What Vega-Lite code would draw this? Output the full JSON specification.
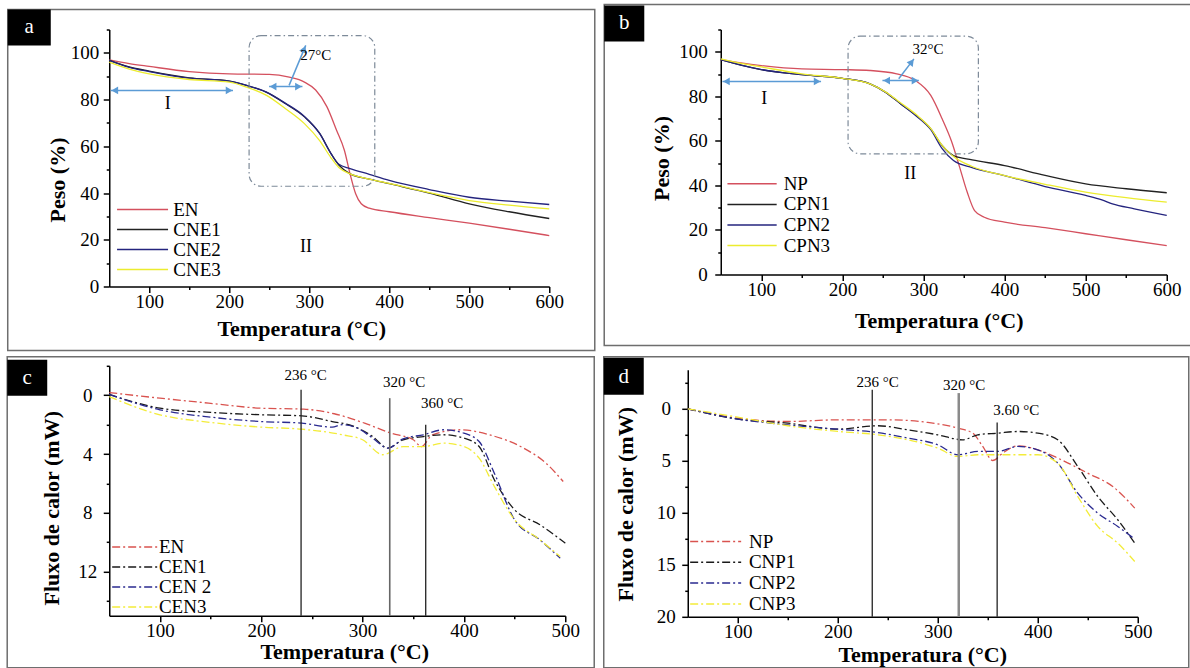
{
"$schema":"https://vega.github.io/schema/vega-lite/v6.json",
"background":"white",
"padding":{"left":6.25,"top":3.5,"right":0,"bottom":0},
"columns":2,
"align":"none",
"bounds":"full",
"spacing":{"row":4.3,"column":6.5},
"resolve":{"scale":{"x":"independent","y":"independent","color":"independent"},"legend":{"color":"independent"}},
"datasets":{
"tga_a":[
{"s":"EN","T":50,"W":97.0},{"s":"EN","T":75,"W":95.4},{"s":"EN","T":100,"W":94.2},{"s":"EN","T":150,"W":92.0},{"s":"EN","T":200,"W":91.0},{"s":"EN","T":250,"W":90.8},{"s":"EN","T":275,"W":89.6},{"s":"EN","T":294,"W":87.5},{"s":"EN","T":308,"W":84.1},{"s":"EN","T":322,"W":77.0},{"s":"EN","T":334,"W":67.0},{"s":"EN","T":344,"W":58.2},{"s":"EN","T":351,"W":48.2},{"s":"EN","T":358,"W":39.7},{"s":"EN","T":365,"W":35.4},{"s":"EN","T":375,"W":33.5},{"s":"EN","T":400,"W":32.0},{"s":"EN","T":450,"W":29.5},{"s":"EN","T":500,"W":27.1},{"s":"EN","T":550,"W":24.5},{"s":"EN","T":600,"W":21.8},
{"s":"CNE1","T":50,"W":96.8},{"s":"CNE1","T":75,"W":94.0},{"s":"CNE1","T":100,"W":92.2},{"s":"CNE1","T":150,"W":89.3},{"s":"CNE1","T":200,"W":87.9},{"s":"CNE1","T":222,"W":86.0},{"s":"CNE1","T":246,"W":83.2},{"s":"CNE1","T":270,"W":78.3},{"s":"CNE1","T":294,"W":72.6},{"s":"CNE1","T":313,"W":65.5},{"s":"CNE1","T":327,"W":57.0},{"s":"CNE1","T":337,"W":52.0},{"s":"CNE1","T":351,"W":48.2},{"s":"CNE1","T":375,"W":46.0},{"s":"CNE1","T":400,"W":44.0},{"s":"CNE1","T":450,"W":40.0},{"s":"CNE1","T":500,"W":35.4},{"s":"CNE1","T":550,"W":32.0},{"s":"CNE1","T":600,"W":29.1},
{"s":"CNE2","T":50,"W":96.8},{"s":"CNE2","T":75,"W":93.8},{"s":"CNE2","T":100,"W":92.0},{"s":"CNE2","T":150,"W":89.2},{"s":"CNE2","T":200,"W":87.9},{"s":"CNE2","T":222,"W":86.1},{"s":"CNE2","T":246,"W":83.3},{"s":"CNE2","T":270,"W":78.5},{"s":"CNE2","T":294,"W":72.8},{"s":"CNE2","T":313,"W":65.5},{"s":"CNE2","T":327,"W":57.0},{"s":"CNE2","T":337,"W":52.3},{"s":"CNE2","T":351,"W":50.5},{"s":"CNE2","T":375,"W":48.0},{"s":"CNE2","T":400,"W":45.4},{"s":"CNE2","T":450,"W":41.5},{"s":"CNE2","T":500,"W":38.2},{"s":"CNE2","T":550,"W":36.5},{"s":"CNE2","T":600,"W":35.1},
{"s":"CNE3","T":50,"W":96.0},{"s":"CNE3","T":75,"W":93.0},{"s":"CNE3","T":100,"W":91.0},{"s":"CNE3","T":150,"W":88.6},{"s":"CNE3","T":200,"W":87.5},{"s":"CNE3","T":222,"W":85.3},{"s":"CNE3","T":246,"W":81.9},{"s":"CNE3","T":270,"W":76.2},{"s":"CNE3","T":294,"W":69.7},{"s":"CNE3","T":313,"W":62.4},{"s":"CNE3","T":327,"W":55.2},{"s":"CNE3","T":337,"W":50.9},{"s":"CNE3","T":351,"W":48.2},{"s":"CNE3","T":375,"W":46.0},{"s":"CNE3","T":400,"W":44.1},{"s":"CNE3","T":450,"W":40.2},{"s":"CNE3","T":500,"W":36.8},{"s":"CNE3","T":550,"W":34.8},{"s":"CNE3","T":600,"W":33.2}
],
"tga_b":[
{"s":"NP","T":50,"W":96.5},{"s":"NP","T":75,"W":95.0},{"s":"NP","T":100,"W":93.8},{"s":"NP","T":150,"W":92.3},{"s":"NP","T":200,"W":92.0},{"s":"NP","T":234,"W":91.6},{"s":"NP","T":267,"W":90.1},{"s":"NP","T":290,"W":87.1},{"s":"NP","T":309,"W":80.4},{"s":"NP","T":323,"W":69.9},{"s":"NP","T":335,"W":59.4},{"s":"NP","T":344,"W":48.9},{"s":"NP","T":354,"W":36.9},{"s":"NP","T":363,"W":28.7},{"s":"NP","T":375,"W":25.7},{"s":"NP","T":400,"W":23.5},{"s":"NP","T":450,"W":21.0},{"s":"NP","T":500,"W":18.3},{"s":"NP","T":550,"W":15.6},{"s":"NP","T":600,"W":13.0},
{"s":"CPN1","T":50,"W":96.5},{"s":"CPN1","T":75,"W":94.0},{"s":"CPN1","T":100,"W":92.0},{"s":"CPN1","T":150,"W":89.7},{"s":"CPN1","T":200,"W":88.1},{"s":"CPN1","T":234,"W":85.6},{"s":"CPN1","T":253,"W":81.9},{"s":"CPN1","T":272,"W":76.6},{"s":"CPN1","T":291,"W":71.4},{"s":"CPN1","T":309,"W":65.4},{"s":"CPN1","T":323,"W":57.9},{"s":"CPN1","T":337,"W":53.4},{"s":"CPN1","T":360,"W":51.5},{"s":"CPN1","T":400,"W":48.9},{"s":"CPN1","T":450,"W":44.5},{"s":"CPN1","T":500,"W":40.7},{"s":"CPN1","T":550,"W":38.5},{"s":"CPN1","T":600,"W":36.7},
{"s":"CPN2","T":50,"W":96.5},{"s":"CPN2","T":75,"W":94.0},{"s":"CPN2","T":100,"W":92.0},{"s":"CPN2","T":150,"W":89.7},{"s":"CPN2","T":200,"W":88.1},{"s":"CPN2","T":234,"W":85.6},{"s":"CPN2","T":253,"W":81.9},{"s":"CPN2","T":272,"W":76.6},{"s":"CPN2","T":291,"W":71.2},{"s":"CPN2","T":309,"W":65.0},{"s":"CPN2","T":323,"W":56.5},{"s":"CPN2","T":337,"W":51.2},{"s":"CPN2","T":360,"W":48.0},{"s":"CPN2","T":400,"W":44.4},{"s":"CPN2","T":450,"W":39.5},{"s":"CPN2","T":500,"W":35.5},{"s":"CPN2","T":520,"W":33.5},{"s":"CPN2","T":533,"W":31.7},{"s":"CPN2","T":560,"W":29.5},{"s":"CPN2","T":600,"W":26.5},
{"s":"CPN3","T":50,"W":96.8},{"s":"CPN3","T":75,"W":94.8},{"s":"CPN3","T":100,"W":93.2},{"s":"CPN3","T":150,"W":90.1},{"s":"CPN3","T":200,"W":88.1},{"s":"CPN3","T":234,"W":85.6},{"s":"CPN3","T":253,"W":82.0},{"s":"CPN3","T":272,"W":77.0},{"s":"CPN3","T":291,"W":71.8},{"s":"CPN3","T":309,"W":65.5},{"s":"CPN3","T":323,"W":58.0},{"s":"CPN3","T":337,"W":53.0},{"s":"CPN3","T":360,"W":48.5},{"s":"CPN3","T":400,"W":44.4},{"s":"CPN3","T":450,"W":40.5},{"s":"CPN3","T":500,"W":37.0},{"s":"CPN3","T":550,"W":34.5},{"s":"CPN3","T":600,"W":32.5}
],
"dsc_c":[
{"s":"EN","T":50,"H":-0.18},{"s":"EN","T":100,"H":0.2},{"s":"EN","T":148,"H":0.54},{"s":"EN","T":199,"H":0.88},{"s":"EN","T":242,"H":0.95},{"s":"EN","T":272,"H":1.26},{"s":"EN","T":302,"H":1.9},{"s":"EN","T":328,"H":2.58},{"s":"EN","T":350,"H":3.03},{"s":"EN","T":358,"H":3.49},{"s":"EN","T":369,"H":2.69},{"s":"EN","T":397,"H":2.35},{"s":"EN","T":425,"H":2.69},{"s":"EN","T":459,"H":3.6},{"s":"EN","T":481,"H":4.62},{"s":"EN","T":498,"H":5.87},
{"s":"CEN1","T":50,"H":-0.05},{"s":"CEN1","T":100,"H":0.88},{"s":"CEN1","T":150,"H":1.17},{"s":"CEN1","T":200,"H":1.33},{"s":"CEN1","T":240,"H":1.4},{"s":"CEN1","T":270,"H":1.79},{"s":"CEN1","T":290,"H":2.08},{"s":"CEN1","T":310,"H":2.81},{"s":"CEN1","T":325,"H":3.6},{"s":"CEN1","T":340,"H":3.03},{"s":"CEN1","T":360,"H":2.81},{"s":"CEN1","T":380,"H":2.69},{"s":"CEN1","T":400,"H":2.92},{"s":"CEN1","T":415,"H":3.49},{"s":"CEN1","T":430,"H":5.75},{"s":"CEN1","T":450,"H":7.79},{"s":"CEN1","T":475,"H":8.81},{"s":"CEN1","T":500,"H":10.06},
{"s":"CEN 2","T":50,"H":-0.05},{"s":"CEN 2","T":100,"H":0.99},{"s":"CEN 2","T":150,"H":1.49},{"s":"CEN 2","T":200,"H":1.79},{"s":"CEN 2","T":240,"H":1.9},{"s":"CEN 2","T":270,"H":2.17},{"s":"CEN 2","T":280,"H":2.0},{"s":"CEN 2","T":295,"H":2.24},{"s":"CEN 2","T":310,"H":2.92},{"s":"CEN 2","T":325,"H":3.6},{"s":"CEN 2","T":340,"H":2.97},{"s":"CEN 2","T":360,"H":2.69},{"s":"CEN 2","T":380,"H":2.35},{"s":"CEN 2","T":400,"H":2.58},{"s":"CEN 2","T":415,"H":3.15},{"s":"CEN 2","T":430,"H":5.3},{"s":"CEN 2","T":450,"H":8.47},{"s":"CEN 2","T":475,"H":9.83},{"s":"CEN 2","T":495,"H":11.08},
{"s":"CEN3","T":50,"H":0.1},{"s":"CEN3","T":100,"H":1.33},{"s":"CEN3","T":150,"H":1.85},{"s":"CEN3","T":200,"H":2.17},{"s":"CEN3","T":240,"H":2.31},{"s":"CEN3","T":280,"H":2.69},{"s":"CEN3","T":300,"H":3.03},{"s":"CEN3","T":320,"H":4.05},{"s":"CEN3","T":340,"H":3.49},{"s":"CEN3","T":360,"H":3.49},{"s":"CEN3","T":380,"H":3.26},{"s":"CEN3","T":400,"H":3.49},{"s":"CEN3","T":415,"H":4.28},{"s":"CEN3","T":430,"H":6.2},{"s":"CEN3","T":450,"H":8.47},{"s":"CEN3","T":475,"H":9.83},{"s":"CEN3","T":495,"H":10.97}
],
"dsc_d":[
{"s":"NP","T":50,"H":0},{"s":"NP","T":100,"H":0.9},{"s":"NP","T":150,"H":1.22},{"s":"NP","T":200,"H":1.06},{"s":"NP","T":250,"H":1.06},{"s":"NP","T":290,"H":1.31},{"s":"NP","T":320,"H":1.86},{"s":"NP","T":335,"H":2.34},{"s":"NP","T":345,"H":3.62},{"s":"NP","T":355,"H":4.97},{"s":"NP","T":365,"H":4.26},{"s":"NP","T":380,"H":3.56},{"s":"NP","T":400,"H":3.94},{"s":"NP","T":420,"H":4.74},{"s":"NP","T":450,"H":6.19},{"s":"NP","T":475,"H":7.47},{"s":"NP","T":497,"H":9.55},
{"s":"CNP1","T":50,"H":0},{"s":"CNP1","T":100,"H":0.99},{"s":"CNP1","T":150,"H":1.38},{"s":"CNP1","T":200,"H":1.96},{"s":"CNP1","T":240,"H":1.63},{"s":"CNP1","T":270,"H":2.02},{"s":"CNP1","T":300,"H":2.5},{"s":"CNP1","T":325,"H":2.98},{"s":"CNP1","T":340,"H":2.5},{"s":"CNP1","T":360,"H":2.34},{"s":"CNP1","T":380,"H":2.18},{"s":"CNP1","T":400,"H":2.34},{"s":"CNP1","T":420,"H":2.98},{"s":"CNP1","T":440,"H":5.54},{"s":"CNP1","T":460,"H":8.43},{"s":"CNP1","T":480,"H":10.67},{"s":"CNP1","T":497,"H":12.92},
{"s":"CNP2","T":50,"H":0},{"s":"CNP2","T":100,"H":0.99},{"s":"CNP2","T":150,"H":1.54},{"s":"CNP2","T":200,"H":1.96},{"s":"CNP2","T":240,"H":2.28},{"s":"CNP2","T":270,"H":2.82},{"s":"CNP2","T":300,"H":3.46},{"s":"CNP2","T":320,"H":4.42},{"s":"CNP2","T":340,"H":4.1},{"s":"CNP2","T":360,"H":4.1},{"s":"CNP2","T":380,"H":3.62},{"s":"CNP2","T":400,"H":3.94},{"s":"CNP2","T":420,"H":5.22},{"s":"CNP2","T":440,"H":8.11},{"s":"CNP2","T":460,"H":10.03},{"s":"CNP2","T":480,"H":11.31},{"s":"CNP2","T":497,"H":12.53},
{"s":"CNP3","T":50,"H":0},{"s":"CNP3","T":100,"H":0.8},{"s":"CNP3","T":150,"H":1.63},{"s":"CNP3","T":200,"H":2.18},{"s":"CNP3","T":240,"H":2.5},{"s":"CNP3","T":270,"H":2.98},{"s":"CNP3","T":300,"H":3.78},{"s":"CNP3","T":320,"H":4.58},{"s":"CNP3","T":340,"H":4.42},{"s":"CNP3","T":360,"H":4.42},{"s":"CNP3","T":380,"H":4.42},{"s":"CNP3","T":400,"H":4.42},{"s":"CNP3","T":420,"H":5.22},{"s":"CNP3","T":440,"H":8.43},{"s":"CNP3","T":460,"H":11.31},{"s":"CNP3","T":480,"H":12.92},{"s":"CNP3","T":497,"H":14.68}
]
},
"concat":[
{
"width":440,"height":257,
"layer":[
{"data":{"name":"tga_a"},"mark":{"type":"line","strokeWidth":1.3,"interpolate":"monotone"},
"encoding":{
"x":{"field":"T","type":"quantitative","scale":{"domain":[50,600],"nice":false,"zero":false},"axis":{"title":"Temperatura (°C)","tickCount":100,"values":[100,150,200,250,300,350,400,450,500,550,600],"labelExpr":"datum.value % 100 === 0 ? datum.label : ''","tickSize":{"condition":{"test":"datum.value % 100 === 0","value":6},"value":3},"titleX":192,"titleY":42,"titleAlign":"center","titleBaseline":"middle"}},
"y":{"field":"W","type":"quantitative","scale":{"domain":[0,110],"nice":false,"zero":false},"axis":{"title":"Peso (%)","tickCount":100,"labelPadding":4.5,"values":[0,10,20,30,40,50,60,70,80,90,100,110],"labelExpr":"datum.value % 20 === 0 ? datum.label : ''","tickSize":{"condition":{"test":"datum.value % 20 === 0","value":6},"value":3},"titleX":-52,"titleY":150,"titleAlign":"center","titleBaseline":"middle"}},
"color":{"field":"s","type":"nominal","sort":null,"scale":{"domain":["EN","CNE1","CNE2","CNE3"],"range":["#d4505e","#222222","#24247e","#ecec2e"]},"legend":{"title":null,"orient":"none","legendX":23.8,"legendY":170.5,"symbolType":"M-5,0H5","symbolSize":104,"labelOffset":21.2,"rowPadding":0,"symbolStrokeWidth":1.5}}}},
{"data":{"values":[{}]},"mark":{"type":"rect","fill":"#fff","fillOpacity":0,"stroke":"#6e6e6e","strokeWidth":1.5},
"encoding":{"x":{"datum":-76.9,"type":"quantitative","scale":{"domain":[50,600],"nice":false,"zero":false}},"x2":{"datum":656.9},"y":{"datum":118.56,"type":"quantitative","scale":{"domain":[0,110],"nice":false,"zero":false}},"y2":{"datum":-27.39}}},
{"data":{"values":[{}]},"mark":{"type":"rect","fill":"#000"},
"encoding":{"x":{"datum":-76.9,"type":"quantitative","scale":{"domain":[50,600],"nice":false,"zero":false}},"x2":{"datum":-23.1},"y":{"datum":118.56,"type":"quantitative","scale":{"domain":[0,110],"nice":false,"zero":false}},"y2":{"datum":103.15}}},
{"data":{"values":[{"t":"a"}]},"mark":{"type":"text","fill":"#fff","fontSize":21,"align":"center","baseline":"middle"},
"encoding":{"x":{"datum":-50,"type":"quantitative","scale":{"domain":[50,600],"nice":false,"zero":false}},"y":{"datum":110.9,"type":"quantitative","scale":{"domain":[0,110],"nice":false,"zero":false}},"text":{"field":"t"}}},
{"data":{"values":[{}]},"mark":{"type":"rect","fill":"#fff","fillOpacity":0,"stroke":"#7d8a99","strokeWidth":1.2,"strokeDash":[6,3,1.5,3],"cornerRadius":12},
"encoding":{"x":{"datum":224.8,"type":"quantitative","scale":{"domain":[50,600],"nice":false,"zero":false}},"x2":{"datum":381.9},"y":{"datum":107.4,"type":"quantitative","scale":{"domain":[0,110],"nice":false,"zero":false}},"y2":{"datum":42.9}}},
{"data":{"values":[{"T":51.9,"T2":204.7,"W":83.9,"W2":83.9},{"T":249.8,"T2":291.5,"W":85.6,"W2":85.6},{"T":274.8,"T2":295.6,"W":86.1,"W2":103.2}]},"mark":{"type":"rule","color":"#5b9bd5","strokeWidth":1.5},
"encoding":{"x":{"field":"T","type":"quantitative","scale":{"domain":[50,600],"nice":false,"zero":false}},"x2":{"field":"T2"},"y":{"field":"W","type":"quantitative","scale":{"domain":[0,110],"nice":false,"zero":false}},"y2":{"field":"W2"}}},
{"data":{"values":[{"T":56.9,"W":83.9},{"T":254.8,"W":85.6}]},"mark":{"type":"point","shape":"triangle-left","filled":true,"color":"#5b9bd5","size":60,"opacity":1},
"encoding":{"x":{"field":"T","type":"quantitative","scale":{"domain":[50,600],"nice":false,"zero":false}},"y":{"field":"W","type":"quantitative","scale":{"domain":[0,110],"nice":false,"zero":false}}}},
{"data":{"values":[{"T":199.8,"W":83.9},{"T":286.5,"W":85.6}]},"mark":{"type":"point","shape":"triangle-right","filled":true,"color":"#5b9bd5","size":60,"opacity":1},
"encoding":{"x":{"field":"T","type":"quantitative","scale":{"domain":[50,600],"nice":false,"zero":false}},"y":{"field":"W","type":"quantitative","scale":{"domain":[0,110],"nice":false,"zero":false}}}},
{"data":{"values":[{"T":293.6,"W":101.6}]},"mark":{"type":"point","shape":"triangle-up","angle":22.7,"filled":true,"color":"#5b9bd5","size":60,"opacity":1},
"encoding":{"x":{"field":"T","type":"quantitative","scale":{"domain":[50,600],"nice":false,"zero":false}},"y":{"field":"W","type":"quantitative","scale":{"domain":[0,110],"nice":false,"zero":false}}}},
{"data":{"values":[{"T":308,"W":98.9,"t":"27°C"}]},"mark":{"type":"text","fontSize":15,"align":"center","baseline":"middle","color":"#000"},
"encoding":{"x":{"field":"T","type":"quantitative","scale":{"domain":[50,600],"nice":false,"zero":false}},"y":{"field":"W","type":"quantitative","scale":{"domain":[0,110],"nice":false,"zero":false}},"text":{"field":"t"}}},
{"data":{"values":[{"T":123,"W":78.2,"t":"I"},{"T":296,"W":16.8,"t":"II"}]},"mark":{"type":"text","fontSize":18,"align":"center","baseline":"middle","color":"#000"},
"encoding":{"x":{"field":"T","type":"quantitative","scale":{"domain":[50,600],"nice":false,"zero":false}},"y":{"field":"W","type":"quantitative","scale":{"domain":[0,110],"nice":false,"zero":false}},"text":{"field":"t"}}}
]
},
{
"width":446,"height":245,
"layer":[
{"data":{"name":"tga_b"},"mark":{"type":"line","strokeWidth":1.3,"interpolate":"monotone"},
"encoding":{
"x":{"field":"T","type":"quantitative","scale":{"domain":[50,600],"nice":false,"zero":false},"axis":{"title":"Temperatura (°C)","tickCount":100,"values":[100,150,200,250,300,350,400,450,500,550,600],"labelExpr":"datum.value % 100 === 0 ? datum.label : ''","tickSize":{"condition":{"test":"datum.value % 100 === 0","value":6},"value":3},"titleX":218,"titleY":46,"titleAlign":"center","titleBaseline":"middle"}},
"y":{"field":"W","type":"quantitative","scale":{"domain":[0,110],"nice":false,"zero":false},"axis":{"title":"Peso (%)","tickCount":100,"labelPadding":7.5,"values":[0,10,20,30,40,50,60,70,80,90,100,110],"labelExpr":"datum.value % 20 === 0 ? datum.label : ''","tickSize":{"condition":{"test":"datum.value % 20 === 0","value":6},"value":3},"titleX":-59,"titleY":128.5,"titleAlign":"center","titleBaseline":"middle"}},
"color":{"field":"s","type":"nominal","sort":null,"scale":{"domain":["NP","CPN1","CPN2","CPN3"],"range":["#d4505e","#222222","#24247e","#ecec2e"]},"legend":{"title":null,"orient":"none","legendX":21.8,"legendY":144.8,"symbolType":"M-5,0H5","symbolSize":97,"labelOffset":22.1,"rowPadding":0.6,"symbolStrokeWidth":1.5}}}},
{"data":{"values":[{}]},"mark":{"type":"rect","fill":"#fff","fillOpacity":0,"stroke":"#6e6e6e","strokeWidth":1.5},
"encoding":{"x":{"datum":-93.7,"type":"quantitative","scale":{"domain":[50,600],"nice":false,"zero":false}},"x2":{"datum":630.2},"y":{"datum":121.2,"type":"quantitative","scale":{"domain":[0,110],"nice":false,"zero":false}},"y2":{"datum":-31.9}}},
{"data":{"values":[{}]},"mark":{"type":"rect","fill":"#000"},
"encoding":{"x":{"datum":-93.7,"type":"quantitative","scale":{"domain":[50,600],"nice":false,"zero":false}},"x2":{"datum":-44.3},"y":{"datum":120.8,"type":"quantitative","scale":{"domain":[0,110],"nice":false,"zero":false}},"y2":{"datum":104.6}}},
{"data":{"values":[{"t":"b"}]},"mark":{"type":"text","fill":"#fff","fontSize":21,"align":"center","baseline":"middle"},
"encoding":{"x":{"datum":-69,"type":"quantitative","scale":{"domain":[50,600],"nice":false,"zero":false}},"y":{"datum":112.7,"type":"quantitative","scale":{"domain":[0,110],"nice":false,"zero":false}},"text":{"field":"t"}}},
{"data":{"values":[{}]},"mark":{"type":"rect","fill":"#fff","fillOpacity":0,"stroke":"#7d8a99","strokeWidth":1.2,"strokeDash":[6,3,1.5,3],"cornerRadius":12},
"encoding":{"x":{"datum":207,"type":"quantitative","scale":{"domain":[50,600],"nice":false,"zero":false}},"x2":{"datum":367.7},"y":{"datum":107,"type":"quantitative","scale":{"domain":[0,110],"nice":false,"zero":false}},"y2":{"datum":54.2}}},
{"data":{"values":[{"T":52.1,"T2":173.7,"W":86.7,"W2":86.7},{"T":249.4,"T2":294.3,"W":87.1,"W2":87.1},{"T":269.5,"T2":288.2,"W":87.9,"W2":96.8}]},"mark":{"type":"rule","color":"#5b9bd5","strokeWidth":1.5},
"encoding":{"x":{"field":"T","type":"quantitative","scale":{"domain":[50,600],"nice":false,"zero":false}},"x2":{"field":"T2"},"y":{"field":"W","type":"quantitative","scale":{"domain":[0,110],"nice":false,"zero":false}},"y2":{"field":"W2"}}},
{"data":{"values":[{"T":57.0,"W":86.7},{"T":254.6,"W":87.1}]},"mark":{"type":"point","shape":"triangle-left","filled":true,"color":"#5b9bd5","size":60,"opacity":1},
"encoding":{"x":{"field":"T","type":"quantitative","scale":{"domain":[50,600],"nice":false,"zero":false}},"y":{"field":"W","type":"quantitative","scale":{"domain":[0,110],"nice":false,"zero":false}}}},
{"data":{"values":[{"T":168.9,"W":86.7},{"T":289.6,"W":87.1}]},"mark":{"type":"point","shape":"triangle-right","filled":true,"color":"#5b9bd5","size":60,"opacity":1},
"encoding":{"x":{"field":"T","type":"quantitative","scale":{"domain":[50,600],"nice":false,"zero":false}},"y":{"field":"W","type":"quantitative","scale":{"domain":[0,110],"nice":false,"zero":false}}}},
{"data":{"values":[{"T":285.5,"W":95.4}]},"mark":{"type":"point","shape":"triangle-up","angle":37,"filled":true,"color":"#5b9bd5","size":60,"opacity":1},
"encoding":{"x":{"field":"T","type":"quantitative","scale":{"domain":[50,600],"nice":false,"zero":false}},"y":{"field":"W","type":"quantitative","scale":{"domain":[0,110],"nice":false,"zero":false}}}},
{"data":{"values":[{"T":305.5,"W":101.3,"t":"32°C"}]},"mark":{"type":"text","fontSize":15,"align":"center","baseline":"middle","color":"#000"},
"encoding":{"x":{"field":"T","type":"quantitative","scale":{"domain":[50,600],"nice":false,"zero":false}},"y":{"field":"W","type":"quantitative","scale":{"domain":[0,110],"nice":false,"zero":false}},"text":{"field":"t"}}},
{"data":{"values":[{"T":103.6,"W":78.9,"t":"I"},{"T":283.6,"W":45.2,"t":"II"}]},"mark":{"type":"text","fontSize":18,"align":"center","baseline":"middle","color":"#000"},
"encoding":{"x":{"field":"T","type":"quantitative","scale":{"domain":[50,600],"nice":false,"zero":false}},"y":{"field":"W","type":"quantitative","scale":{"domain":[0,110],"nice":false,"zero":false}},"text":{"field":"t"}}}
]
},
{
"width":456,"height":250,
"layer":[
{"data":{"name":"dsc_c"},"mark":{"type":"line","strokeWidth":1.3,"interpolate":"monotone","strokeDash":[8,3,2,3]},
"encoding":{
"x":{"field":"T","type":"quantitative","scale":{"domain":[50,500],"nice":false,"zero":false},"axis":{"title":"Temperatura (°C)","tickCount":100,"values":[100,150,200,250,300,350,400,450,500],"labelExpr":"datum.value % 100 === 0 ? datum.label : ''","tickSize":{"condition":{"test":"datum.value % 100 === 0","value":6},"value":3},"titleX":235,"titleY":36,"titleAlign":"center","titleBaseline":"middle"}},
"y":{"field":"H","type":"quantitative","scale":{"domain":[15,-2],"nice":false,"zero":false},"axis":{"title":"Fluxo de calor (mW)","tickCount":100,"labelAlign":"center","labelPadding":16,"values":[-2,0,2,4,6,8,10,12,14],"labelExpr":"datum.value % 4 === 0 ? format(datum.value, 'd') : ''","tickSize":{"condition":{"test":"datum.value % 4 === 0","value":6},"value":3},"titleX":-58,"titleY":142,"titleAlign":"center","titleBaseline":"middle"}},
"color":{"field":"s","type":"nominal","sort":null,"scale":{"domain":["EN","CEN1","CEN 2","CEN3"],"range":["#d9534f","#1a1a1a","#2a2a90","#f3ec3a"]},"legend":{"title":null,"orient":"none","legendX":16.2,"legendY":171.8,"symbolType":"M-5,0H5","symbolSize":83,"labelOffset":14.5,"rowPadding":-0.8,"symbolStrokeWidth":1.5,"symbolDash":[8,3,2,3]}}}},
{"data":{"values":[{}]},"mark":{"type":"rect","fill":"#fff","fillOpacity":0,"stroke":"#6e6e6e","strokeWidth":1.5},
"encoding":{"x":{"datum":-50.7,"type":"quantitative","scale":{"domain":[50,500],"nice":false,"zero":false}},"x2":{"datum":528.6},"y":{"datum":-2.612,"type":"quantitative","scale":{"domain":[15,-2],"nice":false,"zero":false}},"y2":{"datum":18.54}}},
{"data":{"values":[{}]},"mark":{"type":"rect","fill":"#000"},
"encoding":{"x":{"datum":-50.7,"type":"quantitative","scale":{"domain":[50,500],"nice":false,"zero":false}},"x2":{"datum":-11.2},"y":{"datum":-2.408,"type":"quantitative","scale":{"domain":[15,-2],"nice":false,"zero":false}},"y2":{"datum":0.04}}},
{"data":{"values":[{"t":"c"}]},"mark":{"type":"text","fill":"#fff","fontSize":21,"align":"center","baseline":"middle"},
"encoding":{"x":{"datum":-30.9,"type":"quantitative","scale":{"domain":[50,500],"nice":false,"zero":false}},"y":{"datum":-1.18,"type":"quantitative","scale":{"domain":[15,-2],"nice":false,"zero":false}},"text":{"field":"t"}}},
{"data":{"values":[{"T":239.3,"H":-0.37},{"T":362.3,"H":2.01}]},"mark":{"type":"rule","color":"#222","strokeWidth":1.3},
"encoding":{"x":{"field":"T","type":"quantitative","scale":{"domain":[50,500],"nice":false,"zero":false}},"y":{"field":"H","type":"quantitative","scale":{"domain":[15,-2],"nice":false,"zero":false}},"y2":{"datum":15}}},
{"data":{"values":[{"T":326.8,"H":0.2}]},"mark":{"type":"rule","color":"#666","strokeWidth":1.6},
"encoding":{"x":{"field":"T","type":"quantitative","scale":{"domain":[50,500],"nice":false,"zero":false}},"y":{"field":"H","type":"quantitative","scale":{"domain":[15,-2],"nice":false,"zero":false}},"y2":{"datum":15}}},
{"data":{"values":[{"T":243.7,"H":-1.39,"t":"236 °C"},{"T":341,"H":-0.93,"t":"320 °C"},{"T":378.4,"H":0.54,"t":"360 °C"}]},"mark":{"type":"text","fontSize":15,"align":"center","baseline":"middle","color":"#000"},
"encoding":{"x":{"field":"T","type":"quantitative","scale":{"domain":[50,500],"nice":false,"zero":false}},"y":{"field":"H","type":"quantitative","scale":{"domain":[15,-2],"nice":false,"zero":false}},"text":{"field":"t"}}}
]
},
{
"width":450,"height":247,
"layer":[
{"data":{"name":"dsc_d"},"mark":{"type":"line","strokeWidth":1.3,"interpolate":"monotone","strokeDash":[8,3,2,3]},
"encoding":{
"x":{"field":"T","type":"quantitative","scale":{"domain":[50,500],"nice":false,"zero":false},"axis":{"title":"Temperatura (°C)","tickCount":100,"values":[100,150,200,250,300,350,400,450,500],"labelExpr":"datum.value % 100 === 0 ? datum.label : ''","tickSize":{"condition":{"test":"datum.value % 100 === 0","value":6},"value":3},"titleX":234.5,"titleY":38,"titleAlign":"center","titleBaseline":"middle"}},
"y":{"field":"H","type":"quantitative","scale":{"domain":[20,-3.75],"nice":false,"zero":false},"axis":{"title":"Fluxo de calor (mW)","tickCount":100,"labelAlign":"center","labelPadding":16,"values":[-2.5,0,2.5,5,7.5,10,12.5,15,17.5,20],"labelExpr":"datum.value % 5 === 0 ? format(datum.value, 'd') : ''","tickSize":{"condition":{"test":"datum.value % 5 === 0","value":6},"value":3},"titleX":-62.5,"titleY":134,"titleAlign":"center","titleBaseline":"middle"}},
"color":{"field":"s","type":"nominal","sort":null,"scale":{"domain":["NP","CNP1","CNP2","CNP3"],"range":["#d9534f","#1a1a1a","#2a2a90","#f3ec3a"]},"legend":{"title":null,"orient":"none","legendX":18.4,"legendY":162.2,"symbolType":"M-5,0H5","symbolSize":104,"labelOffset":23.8,"rowPadding":0.8,"symbolStrokeWidth":1.5,"symbolDash":[8,3,2,3]}}}},
{"data":{"values":[{}]},"mark":{"type":"rect","fill":"#fff","fillOpacity":0,"stroke":"#6e6e6e","strokeWidth":1.5},
"encoding":{"x":{"datum":-34,"type":"quantitative","scale":{"domain":[50,500],"nice":false,"zero":false}},"x2":{"datum":551},"y":{"datum":-5.0,"type":"quantitative","scale":{"domain":[20,-3.75],"nice":false,"zero":false}},"y2":{"datum":24.9}}},
{"data":{"values":[{}]},"mark":{"type":"rect","fill":"#000"},
"encoding":{"x":{"datum":-34,"type":"quantitative","scale":{"domain":[50,500],"nice":false,"zero":false}},"x2":{"datum":6},"y":{"datum":-4.9,"type":"quantitative","scale":{"domain":[20,-3.75],"nice":false,"zero":false}},"y2":{"datum":-1.35}}},
{"data":{"values":[{"t":"d"}]},"mark":{"type":"text","fill":"#fff","fontSize":21,"align":"center","baseline":"middle"},
"encoding":{"x":{"datum":-14,"type":"quantitative","scale":{"domain":[50,500],"nice":false,"zero":false}},"y":{"datum":-3.08,"type":"quantitative","scale":{"domain":[20,-3.75],"nice":false,"zero":false}},"text":{"field":"t"}}},
{"data":{"values":[{"T":234.5,"H":-1.83},{"T":359.4,"H":1.32}]},"mark":{"type":"rule","color":"#222","strokeWidth":1.3},
"encoding":{"x":{"field":"T","type":"quantitative","scale":{"domain":[50,500],"nice":false,"zero":false}},"y":{"field":"H","type":"quantitative","scale":{"domain":[20,-3.75],"nice":false,"zero":false}},"y2":{"datum":20}}},
{"data":{"values":[{"T":321,"H":-1.51}]},"mark":{"type":"rule","color":"#8a8a8a","strokeWidth":2.5},
"encoding":{"x":{"field":"T","type":"quantitative","scale":{"domain":[50,500],"nice":false,"zero":false}},"y":{"field":"H","type":"quantitative","scale":{"domain":[20,-3.75],"nice":false,"zero":false}},"y2":{"datum":20}}},
{"data":{"values":[{"T":239.8,"H":-2.53,"t":"236 °C"},{"T":326.4,"H":-2.31,"t":"320 °C"},{"T":378.4,"H":0.10,"t":"3.60 °C"}]},"mark":{"type":"text","fontSize":15,"align":"center","baseline":"middle","color":"#000"},
"encoding":{"x":{"field":"T","type":"quantitative","scale":{"domain":[50,500],"nice":false,"zero":false}},"y":{"field":"H","type":"quantitative","scale":{"domain":[20,-3.75],"nice":false,"zero":false}},"text":{"field":"t"}}}
]
}
],
"config":{
"font":"Liberation Serif",
"view":{"stroke":null},
"axis":{"domainColor":"#000","domainWidth":1.5,"tickColor":"#000","tickWidth":1.5,"labelFont":"Liberation Serif","labelFontSize":19,"labelColor":"#000","titleFont":"Liberation Serif","titleFontSize":22,"titleFontWeight":"bold","titleColor":"#000","grid":false,"labelFlush":false,"labelOverlap":false,"labelPadding":0},
"legend":{"labelFont":"Liberation Serif","labelFontSize":19,"labelColor":"#000","padding":0,"labelLimit":0},
"text":{"font":"Liberation Serif"}
}
}
